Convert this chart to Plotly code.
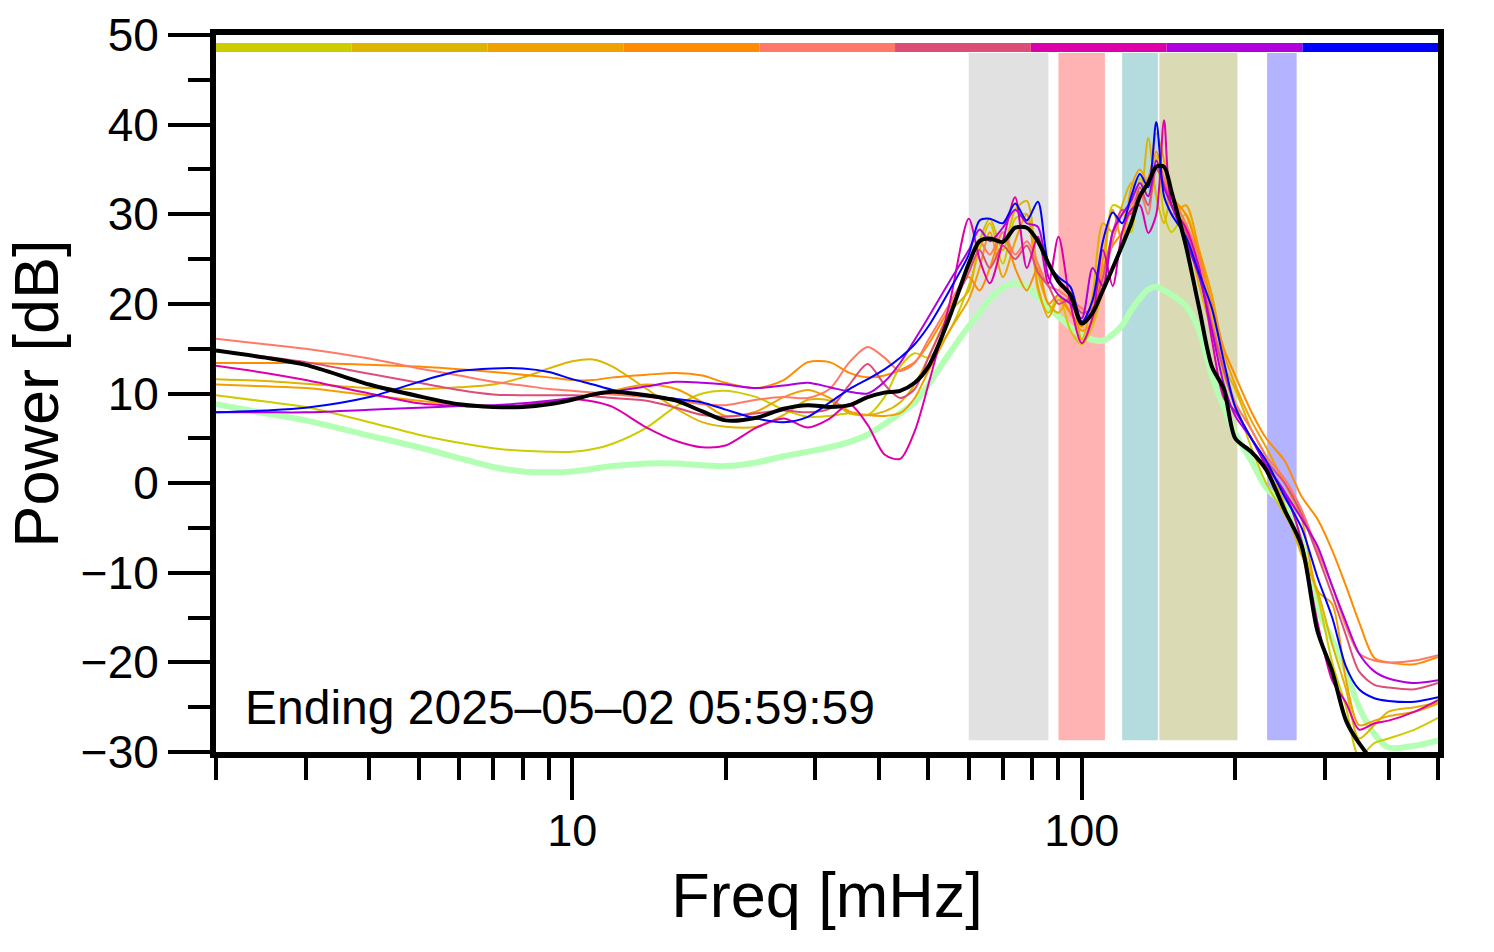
import plotly.graph_objects as go

# ---------------- data ----------------
freq = [2, 2.5, 3, 4, 5, 6, 7, 8, 9, 10, 11, 12, 14, 16, 18, 20, 23, 26, 29, 32, 35, 38, 41, 44, 47,
        50, 55, 60, 63, 66, 70, 74, 78, 82, 86, 90, 95, 100, 105, 110, 115, 120, 125, 130, 135, 140,
        145, 150, 160, 170, 180, 190, 200, 215, 230, 250, 270, 290, 310, 330, 350, 375, 400, 450, 500]

baseline = [8.8, 7.8, 7.0, 5.3, 4.0, 2.8, 1.8, 1.3, 1.2, 1.3, 1.6, 1.9, 2.2, 2.2, 2.0, 1.9, 2.3, 3.0, 3.5, 4.0,
            4.6, 5.4, 6.6, 7.8, 9.0, 11.0, 14.5, 17.5, 19.0, 20.5, 21.8, 22.3, 21.9, 20.8, 19.6, 18.6, 17.4,
            16.5, 16.0, 15.9, 16.6, 17.6, 19.3, 20.6, 21.6, 21.9, 21.5, 21.0, 19.8, 17.0, 12.0, 8.5, 5.5,
            2.5, -0.5, -2.5, -6.5, -14.0, -17.5, -21.0, -25.0, -28.0, -29.5, -29.3, -28.7]

s_yellowgreen = [9.8, 9.1, 8.5, 6.8, 5.4, 4.5, 3.9, 3.6, 3.5, 3.5, 3.8, 4.4, 6.2, 8.6, 10.0, 10.3, 9.6, 8.2, 7.4,
                 7.5, 7.8, 7.6, 9.6, 13.0, 14.5, 14.0, 17.0, 22.0, 26.0, 29.0, 24.5, 29.5, 30.0, 21.5, 19.0,
                 21.0, 17.0, 15.5, 17.5, 22.0, 31.0, 30.5, 28.0, 34.0, 32.0, 36.5, 30.0, 28.0, 30.0, 25.0, 19.0,
                 12.0, 9.0, 4.0, 0.0, -3.5, -7.0, -12.5, -20.0, -25.0, -30.5, -29.0, -28.5, -27.5, -26.2]

s_gold = [11.6, 11.4, 11.1, 10.6, 10.5, 10.7, 11.0, 11.8, 12.8, 13.6, 13.8, 13.0, 10.5, 8.3, 6.8, 6.3, 6.3, 7.6,
          9.3, 9.2, 7.8, 7.6, 8.0, 9.0, 11.0, 14.0, 19.0, 21.5, 27.0, 29.5, 26.0, 30.5, 31.5, 23.5, 20.0, 19.0,
          21.0, 16.0, 21.0, 29.0, 28.0, 31.0, 33.5, 32.0, 38.5, 32.0, 29.0, 32.0, 28.5, 22.0, 17.0, 13.0, 10.5,
          6.0, 3.0, -2.5, -8.0, -12.0, -18.0, -23.0, -28.5, -27.0, -25.5, -25.0, -24.5]

s_orangegold = [11.0, 10.8, 10.6, 9.8, 9.2, 8.8, 8.6, 8.5, 8.8, 9.3, 9.8, 10.3, 11.0, 10.5, 9.0, 7.5, 8.0, 9.6,
                10.4, 9.5, 8.0, 7.6, 7.5, 7.8, 9.5, 12.5, 17.0, 20.5, 24.0, 28.0, 23.0, 27.0, 30.0, 22.0, 18.5,
                20.5, 19.0, 17.0, 18.0, 25.0, 30.5, 27.0, 33.0, 35.0, 33.5, 39.0, 36.0, 30.0, 31.0, 26.0, 21.0,
                14.5, 11.0, 7.0, 4.0, 0.0, -4.0, -12.0, -13.5, -22.0, -27.0, -26.5, -26.0, -25.5, -24.6]

s_orange = [13.4, 13.4, 13.4, 13.2, 13.0, 12.7, 12.4, 12.1, 11.8, 11.5, 11.5, 11.8, 12.1, 12.3, 12.0, 11.2, 10.6,
            11.5, 13.5, 13.5, 12.3, 11.8, 12.0, 12.6, 13.5, 15.5, 19.5, 23.0, 21.5, 24.0, 28.0, 24.0, 21.5, 24.0,
            20.0, 21.0, 19.0, 17.5, 20.0, 24.0, 26.5, 28.0, 30.5, 32.0, 34.0, 37.0, 34.0, 32.0, 30.0, 25.5, 20.0,
            15.0, 12.0, 8.0, 5.0, 2.5, -1.5, -4.0, -7.5, -11.5, -15.5, -19.5, -20.0, -20.2, -19.4]

s_salmon = [16.1, 15.5, 15.0, 13.9, 12.8, 12.0, 11.3, 10.9, 10.5, 10.3, 10.1, 9.9, 9.6, 9.3, 8.8, 8.7, 9.3, 9.6,
            9.5, 10.5, 13.5, 15.2, 14.0, 12.5, 13.4, 16.0, 20.0, 24.0, 27.0, 25.5, 28.0, 25.5, 27.0, 24.5, 22.0,
            21.5, 20.5, 19.5, 18.5, 22.0, 27.0, 30.0, 31.0, 32.5, 30.0, 36.0, 34.0, 32.0, 29.0, 25.0, 18.0, 13.0,
            9.0, 6.0, 3.0, 0.5, -3.0, -7.5, -11.5, -16.0, -19.0, -19.8, -20.0, -19.8, -19.2]

s_pink = [14.8, 14.1, 13.5, 12.2, 11.2, 10.4, 9.9, 9.8, 9.8, 9.8, 9.7, 9.5, 9.2, 8.4, 7.6, 7.4, 7.8, 8.1, 7.9,
          8.3, 11.0, 13.3, 11.0, 9.5, 10.5, 14.0, 19.0, 23.5, 26.0, 24.0, 26.5, 25.0, 26.5, 23.5, 22.0, 20.0,
          20.5, 19.0, 19.5, 23.0, 28.0, 30.5, 30.0, 33.0, 31.0, 35.0, 33.5, 31.0, 28.0, 24.0, 17.5, 12.5, 8.5,
          5.0, 2.5, 0.0, -3.5, -8.0, -12.5, -17.0, -21.0, -22.5, -22.8, -23.0, -22.3]

s_magenta = [13.1, 12.3, 11.5, 10.0, 8.9, 8.6, 8.5, 8.7, 9.1, 9.4, 9.1, 8.5, 6.2, 4.7, 4.0, 4.2, 6.2, 7.2, 6.2,
             7.2, 8.8, 6.5, 3.2, 2.7, 5.8, 11.0, 20.0, 29.5, 25.0, 22.3, 27.0, 31.9, 24.0, 27.5, 22.3, 27.5, 20.0,
             15.6, 18.5, 26.0, 22.0, 28.0, 30.5, 31.0, 27.9, 30.0, 40.5, 31.0, 28.5, 24.0, 16.0, 9.5, 8.0, 5.0,
             2.0, -1.0, -6.5, -15.5, -22.0, -24.5, -27.5, -26.8, -26.5, -25.5, -24.2]

s_purple = [7.9, 7.9, 7.9, 8.2, 8.4, 8.6, 8.7, 8.9, 9.2, 9.5, 9.8, 10.2, 10.8, 11.3, 11.2, 11.0, 10.6, 10.9, 11.2,
            10.7, 10.2, 10.0, 11.3, 13.4, 16.0, 18.5, 22.5, 26.0, 28.3, 27.0, 28.5, 30.5, 29.0, 28.6, 23.0, 21.0,
            20.0, 18.4, 24.0, 22.0, 28.0, 30.0, 31.5, 33.5, 32.0, 36.0, 33.0, 31.0, 27.0, 23.0, 17.0, 11.0, 7.5,
            5.0, 2.0, -1.0, -4.0, -7.0, -11.5, -15.5, -19.0, -21.0, -21.8, -22.3, -22.0]

s_blue = [7.9, 8.1, 8.4, 9.6, 11.3, 12.5, 12.8, 12.8, 12.4, 11.6, 11.0, 10.4, 9.7, 9.4, 9.0, 8.2, 7.2, 6.8, 7.4,
          9.0, 10.5, 11.6, 12.7, 14.0, 15.5, 17.5, 21.5, 25.5, 29.3, 29.5, 29.0, 31.2, 29.3, 31.4, 24.5, 23.0,
          21.9, 18.0, 20.4, 27.0, 30.2, 29.0, 32.0, 34.5, 33.0, 40.3, 32.0, 30.0, 27.5, 23.4, 19.5, 13.6, 8.5,
          5.0, 2.5, -1.5, -5.0, -10.5, -15.0, -20.5, -23.0, -24.0, -24.3, -24.4, -23.9]

mean_power = [14.8, 14.0, 13.2, 11.0, 9.7, 8.8, 8.5, 8.5, 8.8, 9.3, 9.9, 10.2, 9.8, 9.2, 8.0, 7.0, 7.3, 8.3, 8.7,
              8.5, 8.7, 9.6, 10.1, 10.3, 11.2, 13.0, 18.5, 24.5, 27.0, 27.3, 26.9, 28.5, 28.5, 27.0, 24.5, 22.5,
              21.0, 17.8, 19.0, 21.5, 24.0, 26.5, 29.0, 32.0, 33.5, 35.3, 35.3, 32.5, 26.5, 19.5, 13.0, 10.5, 5.0,
              3.5, 1.5, -3.0, -7.0, -16.5, -21.0, -26.5, -29.0, -31.0, -31.0, -31.0, -31.0]

series_names = ["yellowgreen", "gold", "orangegold", "orange", "salmon", "pink", "magenta", "purple", "blue"]
series_values = [s_yellowgreen, s_gold, s_orangegold, s_orange, s_salmon, s_pink, s_magenta, s_purple, s_blue]

# frequency bands (mHz)
band_lo = [60, 90, 120, 142, 231]
band_hi = [86, 111, 141, 202, 264]
band_bottom = -28.7
band_top = 48.0

# time legend bar segment edges (mHz)
seg_edges = [2, 3.69, 6.82, 12.6, 23.3, 43.0, 79.4, 146.7, 271, 500]

x_tick_vals = [10, 100]
x_tick_text = ["10", "100"]
x_minor_vals = [2, 3, 4, 5, 6, 7, 8, 9, 20, 30, 40, 50, 60, 70, 80, 90, 200, 300, 400, 500]

# ---------------- styles ----------------
series_colors = ["#CCCC00", "#DDB400", "#F0A000", "#FF8C00", "#FF7A66", "#DC4E78", "#DD00AA", "#B000DD", "#0000FF"]
band_colors = ["#E1E1E1", "#FFB3B3", "#B4DCDE", "#DADAB5", "#B3B3FF"]
FONT = "Liberation Sans, Arial, Helvetica, sans-serif"

fig = go.Figure()

fig.add_trace(go.Scatter(x=freq, y=baseline, mode="lines",
                         line=dict(color="#B3FFB3", width=6, shape="spline", smoothing=0.8),
                         showlegend=False, hoverinfo="skip"))
for name, vals, col in zip(series_names, series_values, series_colors):
    fig.add_trace(go.Scatter(x=freq, y=vals, mode="lines", name=name,
                             line=dict(color=col, width=2, shape="spline", smoothing=0.8),
                             showlegend=False))
fig.add_trace(go.Scatter(x=freq, y=mean_power, mode="lines", name="mean",
                         line=dict(color="black", width=4, shape="spline", smoothing=0.8),
                         showlegend=False))

shapes = []
for lo, hi, col in zip(band_lo, band_hi, band_colors):
    shapes.append(dict(type="rect", xref="x", yref="y", x0=lo, x1=hi, y0=band_bottom, y1=band_top,
                       fillcolor=col, line=dict(width=0), layer="below"))
for i, col in enumerate(series_colors):
    shapes.append(dict(type="rect", xref="x", yref="y", x0=seg_edges[i], x1=seg_edges[i + 1],
                       y0=48.1, y1=49.1, fillcolor=col, line=dict(width=0), layer="above"))

fig.update_layout(
    width=1494, height=952,
    margin=dict(l=208, r=64, t=27, b=208, autoexpand=False),
    paper_bgcolor="white", plot_bgcolor="white",
    font=dict(family=FONT, color="black", size=45),
    shapes=shapes,
    showlegend=False,
    annotations=[
        dict(text="Ending 2025\u201305\u201302 05:59:59", xref="paper", yref="paper",
             x=0.022, y=0.062, xanchor="left", yanchor="middle", showarrow=False,
             font=dict(family=FONT, size=48, color="black")),
        dict(text="Power [dB]", xref="paper", yref="paper", x=-0.148, y=0.5,
             xanchor="center", yanchor="middle", textangle=-90, showarrow=False,
             font=dict(family=FONT, size=63, color="black")),
    ],
)

fig.update_xaxes(
    type="log", range=[0.30103, 2.69897], automargin=False,
    showline=True, linewidth=6, linecolor="black", mirror=True,
    showgrid=False, zeroline=False,
    tickmode="array", tickvals=x_tick_vals, ticktext=x_tick_text,
    ticks="outside", ticklen=42, tickwidth=4, tickcolor="black",
    tickfont=dict(size=45, family=FONT), ticklabelstandoff=-8,
    minor=dict(tickmode="array", tickvals=x_minor_vals, ticks="outside", ticklen=22,
               tickwidth=4, tickcolor="black", showgrid=False),
    title=dict(text="Freq [mHz]", font=dict(size=63, family=FONT), standoff=20),
)
fig.update_yaxes(
    range=[-30, 50], automargin=False,
    showline=True, linewidth=6, linecolor="black", mirror=True,
    showgrid=False, zeroline=False,
    tickmode="linear", tick0=-30, dtick=10,
    ticks="outside", ticklen=42, tickwidth=4, tickcolor="black",
    tickfont=dict(size=46, family=FONT),
    minor=dict(tickmode="linear", tick0=-30, dtick=5, ticks="outside", ticklen=22,
               tickwidth=4, tickcolor="black", showgrid=False),
)

fig.write_html("out.html")
